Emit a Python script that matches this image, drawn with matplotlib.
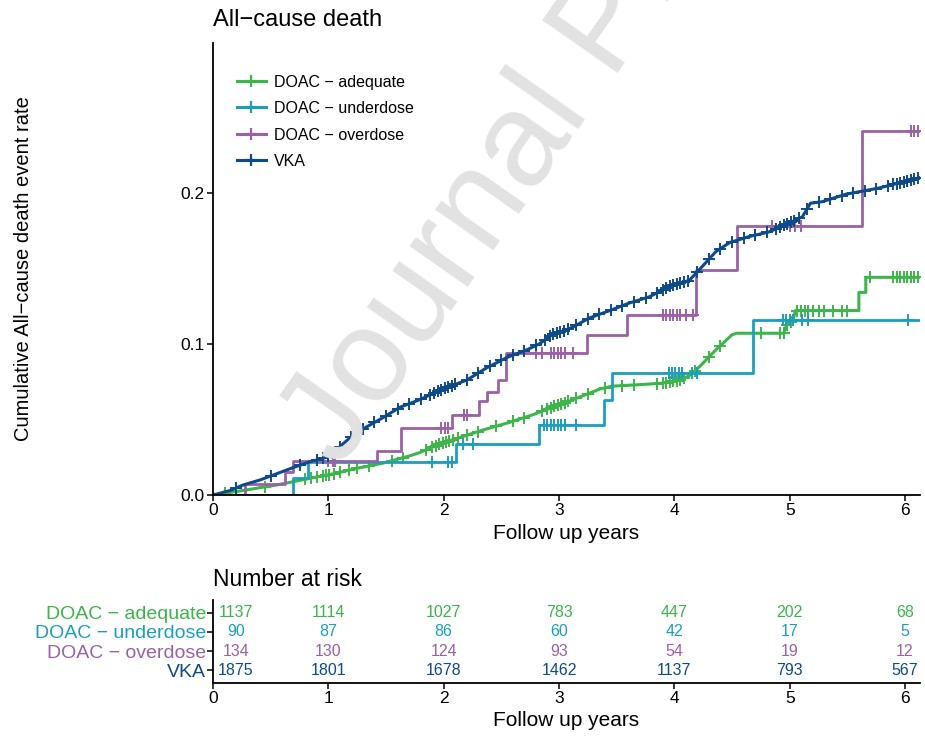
import numpy as np
import matplotlib
matplotlib.use("Agg")
import matplotlib.pyplot as plt
from matplotlib.lines import Line2D
from matplotlib.transforms import offset_copy

plt.rcParams['font.family'] = ['Liberation Sans', 'DejaVu Sans']

groups = ['DOAC \u2212 adequate', 'DOAC \u2212 underdose', 'DOAC \u2212 overdose', 'VKA']
colors = ['#3cb54a', '#1c9fbd', '#9b61a6', '#0d4a8a']

# curves (years, cumulative event rate)
ade_t = [0, 0.26, 0.55, 0.84, 1.04, 1.27, 1.47, 1.71, 1.79, 1.97, 2.14, 2.34, 2.57, 2.77, 2.94,
         3.12, 3.35, 3.46, 3.70, 3.90, 4.05, 4.13, 4.22, 4.36, 4.50, 4.54, 4.95, 4.97, 5.03, 5.05,
         5.60, 5.60, 5.66, 5.66, 6.13]
ade_y = [0, 0.003, 0.0066, 0.011, 0.014, 0.018, 0.021, 0.026, 0.028, 0.034, 0.038, 0.043, 0.048,
         0.053, 0.058, 0.063, 0.070, 0.072, 0.073, 0.074, 0.076, 0.079, 0.085, 0.096, 0.106, 0.107,
         0.107, 0.112, 0.116, 0.122, 0.122, 0.134, 0.134, 0.144, 0.144]

und_t = [0, 0.69, 0.82, 2.11, 2.83, 3.39, 3.46, 4.68, 6.13]
und_y = [0, 0.011, 0.022, 0.034, 0.046, 0.063, 0.081, 0.116, 0.116]

ovr_t = [0, 0.28, 0.62, 0.69, 1.42, 1.63, 2.07, 2.31, 2.38, 2.47, 2.54, 3.24, 3.59, 4.19, 4.54, 5.63, 6.13]
ovr_y = [0, 0.0075, 0.0149, 0.0224, 0.029, 0.044, 0.053, 0.062, 0.068, 0.076, 0.094, 0.106, 0.119,
         0.149, 0.178, 0.241, 0.241]

vka_t = [0, 0.15, 0.26, 0.41, 0.55, 0.69, 0.84, 0.99, 1.07, 1.19, 1.33, 1.47, 1.62, 1.79, 1.99, 2.20,
         2.37, 2.55, 2.72, 2.83, 2.94, 3.12, 3.26, 3.44, 3.61, 3.78, 3.96, 4.13, 4.24, 4.36, 4.48,
         4.65, 4.82, 4.97, 5.11, 5.18, 5.28, 5.49, 5.63, 5.77, 5.98, 6.13]
vka_y = [0, 0.003, 0.0066, 0.010, 0.014, 0.018, 0.022, 0.025, 0.030, 0.038, 0.045, 0.051, 0.058,
         0.063, 0.070, 0.076, 0.084, 0.091, 0.096, 0.100, 0.106, 0.111, 0.117, 0.122, 0.127, 0.131,
         0.138, 0.142, 0.151, 0.161, 0.167, 0.171, 0.174, 0.179, 0.184, 0.193, 0.194, 0.199, 0.201,
         0.203, 0.207, 0.210]

# censoring times
ade_cens = [0.1, 0.45, 0.8, 0.85, 0.9, 0.95, 0.98, 1.01, 1.05, 1.1, 1.18, 1.25, 1.35, 1.55, 1.65,
            1.85, 1.9, 1.93, 1.96, 1.99, 2.02, 2.05, 2.08, 2.12, 2.2, 2.3, 2.45, 2.6, 2.7, 2.85, 2.9,
            2.93, 2.96, 2.99, 3.02, 3.05, 3.08, 3.15, 3.25, 3.4, 3.55, 3.65, 3.85, 3.9, 3.93, 3.96,
            3.99, 4.02, 4.05, 4.08, 4.18, 4.3, 4.4, 4.75, 4.92, 4.95, 4.98, 5.01, 5.06, 5.1, 5.13,
            5.16, 5.2, 5.25, 5.3, 5.38, 5.45, 5.5, 5.7, 5.9, 5.93, 5.96, 5.99, 6.02, 6.05, 6.08, 6.11]
und_cens = [1.9, 2.04, 2.07, 2.17, 2.25, 2.87, 2.9, 2.93, 2.96, 2.99, 3.02, 3.05, 3.15, 3.95, 3.98,
            4.01, 4.04, 4.07, 4.15, 4.2, 4.94, 4.97, 5.0, 5.03, 5.11, 5.16, 6.03]
ovr_cens = [1.0, 1.04, 1.06, 1.98, 2.01, 2.04, 2.18, 2.2, 2.8, 2.85, 2.93, 2.96, 2.99, 3.02, 3.05,
            3.12, 3.9, 3.93, 3.96, 3.99, 4.02, 4.05, 4.1, 4.16, 4.85, 5.0, 5.05, 5.1, 6.05, 6.08, 6.11]
vka_cens = [0.2, 0.5, 0.75, 0.9, 0.95, 1.0, 1.03, 1.1, 1.2, 1.3, 1.4, 1.5, 1.6, 1.7, 1.8, 1.88, 1.92,
            1.95, 1.98, 2.01, 2.04, 2.07, 2.1, 2.2, 2.3, 2.4, 2.5, 2.6, 2.7, 2.8, 2.88, 2.92, 2.95,
            2.98, 3.01, 3.04, 3.08, 3.15, 3.25, 3.35, 3.45, 3.55, 3.65, 3.75, 3.85, 3.9, 3.93, 3.96,
            3.99, 4.02, 4.05, 4.08, 4.12, 4.2, 4.3, 4.4, 4.5, 4.6, 4.7, 4.8, 4.88, 4.92, 4.95, 4.98,
            5.01, 5.04, 5.08, 5.15, 5.25, 5.35, 5.45, 5.55, 5.65, 5.75, 5.85, 5.9, 5.93, 5.96, 5.99,
            6.02, 6.05, 6.08, 6.11]

risk_times = [0, 1, 2, 3, 4, 5, 6]
risk_ade = [1137, 1114, 1027, 783, 447, 202, 68]
risk_und = [90, 87, 86, 60, 42, 17, 5]
risk_ovr = [134, 130, 124, 93, 54, 19, 12]
risk_vka = [1875, 1801, 1678, 1462, 1137, 793, 567]

fig = plt.figure(figsize=(9.25, 7.38), dpi=100)
W, H = 925, 738

fig.text(340 / W, 1 - 470 / H, 'Journal Pre-proof', fontsize=96, color='#e2e2e2',
         rotation=55, rotation_mode='anchor', ha='left', va='baseline', zorder=0)

ax = fig.add_axes([213 / W, 1 - 495 / H, 707 / W, 452 / H])
ax.patch.set_alpha(0)


def step_val(t, y, c):
    i = np.searchsorted(t, c, side='right') - 1
    return np.asarray(y)[i]


curves = [(ade_t, ade_y, ade_cens, 'line'), (und_t, und_y, und_cens, 'step'),
          (ovr_t, ovr_y, ovr_cens, 'step'), (vka_t, vka_y, vka_cens, 'line')]
for (t, y, cens, kind), col in zip(curves, colors):
    if kind == 'step':
        ax.plot(t, y, drawstyle='steps-post', color=col, lw=2.0)
        cy = step_val(t, y, cens)
    else:
        ax.plot(t, y, color=col, lw=2.2)
        cy = np.interp(cens, t, y)
    ax.plot(cens, cy, ls='none', marker='+', ms=8, mew=1.4, color=col)

ax.set_xlim(0, 6.13)
ax.set_ylim(0, 0.299)
ax.set_yticks([0, 0.1, 0.2])
ax.set_yticklabels(['0.0', '0.1', '0.2'])
ax.set_xticks(risk_times)
for s in ['top', 'right']:
    ax.spines[s].set_visible(False)
for s in ['left', 'bottom']:
    ax.spines[s].set_linewidth(1.3)
ax.tick_params(labelsize=12.5, length=4, width=1.1, colors='black', pad=2)
ax.set_xlabel('Follow up years', fontsize=15, labelpad=4)
ax.set_ylabel('Cumulative All\u2212cause death event rate', fontsize=14.5, labelpad=0)
ax.yaxis.set_label_coords(-0.255, 0.5)
ax.set_title('All\u2212cause death', loc='left', fontsize=17, pad=12)

handles = [Line2D([], [], color=c, lw=2.2, marker='+', ms=9, mew=1.6) for c in colors]
ax.legend(handles, groups, loc='upper left', bbox_to_anchor=(0.018, 0.955), frameon=False,
          fontsize=11.5, handlelength=1.8, handletextpad=0.5, labelspacing=0.72, borderaxespad=0.3)

# risk table
rax = fig.add_axes([213 / W, 1 - 683 / H, 707 / W, 83 / H])
rax.set_xlim(0, 6.13)
rax.set_ylim(0.32, 4.68)
rows = [risk_ade, risk_und, risk_ovr, risk_vka]
ypos = [4, 3, 2, 1]
for vals, yy, col in zip(rows, ypos, colors):
    for tt, v in zip(risk_times, vals):
        tr = rax.transData
        if tt == 0:
            tr = offset_copy(rax.transData, fig=fig, x=23, y=0, units='dots')
        rax.text(tt, yy, str(v), color=col, fontsize=11.5, ha='center', va='center', transform=tr)
rax.set_yticks(ypos)
rax.set_yticklabels(groups, fontsize=14)
for lab, col in zip(rax.get_yticklabels(), colors):
    lab.set_color(col)
rax.set_xticks(risk_times)
for s in ['top', 'right']:
    rax.spines[s].set_visible(False)
for s in ['left', 'bottom']:
    rax.spines[s].set_linewidth(1.3)
rax.tick_params(axis='x', labelsize=12.5, length=4, width=1.1, pad=2)
rax.tick_params(axis='y', length=4, width=1.1, pad=1)
rax.set_xlabel('Follow up years', fontsize=15, labelpad=3)
rax.set_title('Number at risk', loc='left', fontsize=16.5, pad=10)

fig.savefig('out.png', dpi=100)
